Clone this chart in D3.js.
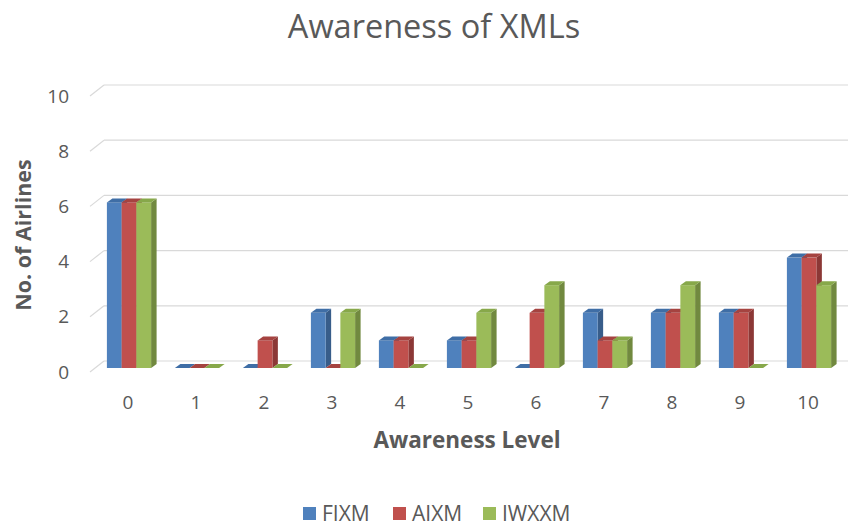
<!DOCTYPE html>
<html>
<head>
<meta charset="utf-8">
<script src="https://cdn.jsdelivr.net/npm/d3@7"></script>
<style>
  body { margin: 0; background: #fff; }
  text { font-family: "Open Sans", Lato, sans-serif; fill: #595959; }
</style>
</head>
<body>
<div id="chart"></div>
<script>
// data
var levels = ["0", "1", "2", "3", "4", "5", "6", "7", "8", "9", "10"];
var seriesNames = ["FIXM", "AIXM", "IWXXM"];
var fixm  = [6, 0, 0, 2, 1, 1, 0, 2, 2, 2, 4];
var aixm  = [6, 0, 1, 0, 1, 1, 2, 1, 2, 2, 4];
var iwxxm = [6, 0, 0, 2, 0, 2, 3, 1, 3, 0, 3];
var yTicks = [0, 2, 4, 6, 8, 10];

var series = [fixm, aixm, iwxxm];
var frontFace = ["#4f81bd", "#c0504d", "#9bbb59"],
  sideFace = ["#385d8a", "#8c3836", "#71893f"],
  topFace = ["#3f6ea6", "#a54340", "#87a84a"];

var svg_dx = 850, svg_dy = 527;

// bar plane scales; the back wall and the front edge are offset from it
var x = d3.scaleBand().domain(levels).range([95, 843]).paddingInner(0.35).paddingOuter(0.175),
  xs = d3.scaleBand().domain(d3.range(3)).range([0, x.bandwidth()]),
  y = d3.scaleLinear().domain([0, 10]).range([368, 92]);

var depth = {dx: 5.5, dy: 4},   // bar depth
  back = {dx: 10, dy: 7},       // bar plane -> back wall
  frontEdge = {dx: -4, dy: -4};  // bar plane -> front edge

var svg = d3.select("#chart")
  .append("svg")
  .attr("width", svg_dx)
  .attr("height", svg_dy);

// title
svg.append("text")
  .attr("x", 434)
  .attr("y", 38)
  .attr("text-anchor", "middle")
  .style("font-size", "32.5px")
  .text("Awareness of XMLs");

// back wall gridlines and the slanted ticks on the left side wall
var grid = svg.append("g").attr("class", "grid");
grid.selectAll("line.h")
  .data(yTicks)
  .enter().append("line")
  .attr("class", "h")
  .attr("x1", 90 + (back.dx - frontEdge.dx))
  .attr("x2", 848)
  .attr("y1", d => y(d) - back.dy)
  .attr("y2", d => y(d) - back.dy)
  .attr("stroke", "#d9d9d9")
  .attr("stroke-width", 1.2);

grid.selectAll("line.s")
  .data(yTicks)
  .enter().append("line")
  .attr("class", "s")
  .attr("x1", 90)
  .attr("x2", 90 + (back.dx - frontEdge.dx))
  .attr("y1", d => y(d) - frontEdge.dy)
  .attr("y2", d => y(d) - back.dy)
  .attr("stroke", "#d9d9d9")
  .attr("stroke-width", 1.2);

// y tick labels
svg.append("g")
  .selectAll("text")
  .data(yTicks)
  .enter().append("text")
  .attr("x", 69)
  .attr("y", d => y(d) - frontEdge.dy)
  .attr("dy", "0.35em")
  .attr("text-anchor", "end")
  .style("font-size", "19px")
  .text(d => d);

// bars, drawn left to right so each side face is hidden by the next bar
var bars = svg.append("g").attr("class", "bars");
levels.forEach(function(lv, i) {
  series.forEach(function(s, j) {
    var x0 = x(lv) + xs(j),
      x1 = x0 + xs.bandwidth(),
      y0 = y(0),
      y1 = y(s[i]);
    var g = bars.append("g");
    g.append("path")
      .attr("d", "M" + x1 + "," + y1 + "L" + (x1 + depth.dx) + "," + (y1 - depth.dy) +
        "L" + (x1 + depth.dx) + "," + (y0 - depth.dy) + "L" + x1 + "," + y0 + "Z")
      .attr("fill", sideFace[j]);
    g.append("rect")
      .attr("x", x0)
      .attr("y", y1)
      .attr("width", x1 - x0)
      .attr("height", y0 - y1)
      .attr("fill", frontFace[j]);
    g.append("path")
      .attr("d", "M" + x0 + "," + y1 + "L" + (x0 + depth.dx) + "," + (y1 - depth.dy) +
        "L" + (x1 + depth.dx) + "," + (y1 - depth.dy) + "L" + x1 + "," + y1 + "Z")
      .attr("fill", topFace[j]);
  });
});

// x tick labels
svg.append("g")
  .selectAll("text")
  .data(levels)
  .enter().append("text")
  .attr("x", d => x(d) + x.bandwidth() / 2 - 1)
  .attr("y", 402)
  .attr("dy", "0.35em")
  .attr("text-anchor", "middle")
  .style("font-size", "19px")
  .text(d => d);

// axis titles
svg.append("text")
  .attr("transform", "translate(31,235) rotate(-90)")
  .attr("text-anchor", "middle")
  .style("font-size", "21.5px")
  .style("font-weight", "bold")
  .text("No. of Airlines");

svg.append("text")
  .attr("x", 467)
  .attr("y", 448)
  .attr("text-anchor", "middle")
  .style("font-size", "22.5px")
  .style("font-weight", "bold")
  .text("Awareness Level");

// legend
var legendX = [303, 393, 483];
var legend = svg.append("g").selectAll("g")
  .data(seriesNames)
  .enter().append("g")
  .attr("transform", (d, i) => "translate(" + legendX[i] + ",507)");
legend.append("rect")
  .attr("width", 13)
  .attr("height", 13)
  .attr("fill", (d, i) => frontFace[i]);
legend.append("text")
  .attr("x", 19)
  .attr("y", 7)
  .attr("dy", "0.35em")
  .style("font-size", "21px")
  .text(d => d);
</script>
</body>
</html>
